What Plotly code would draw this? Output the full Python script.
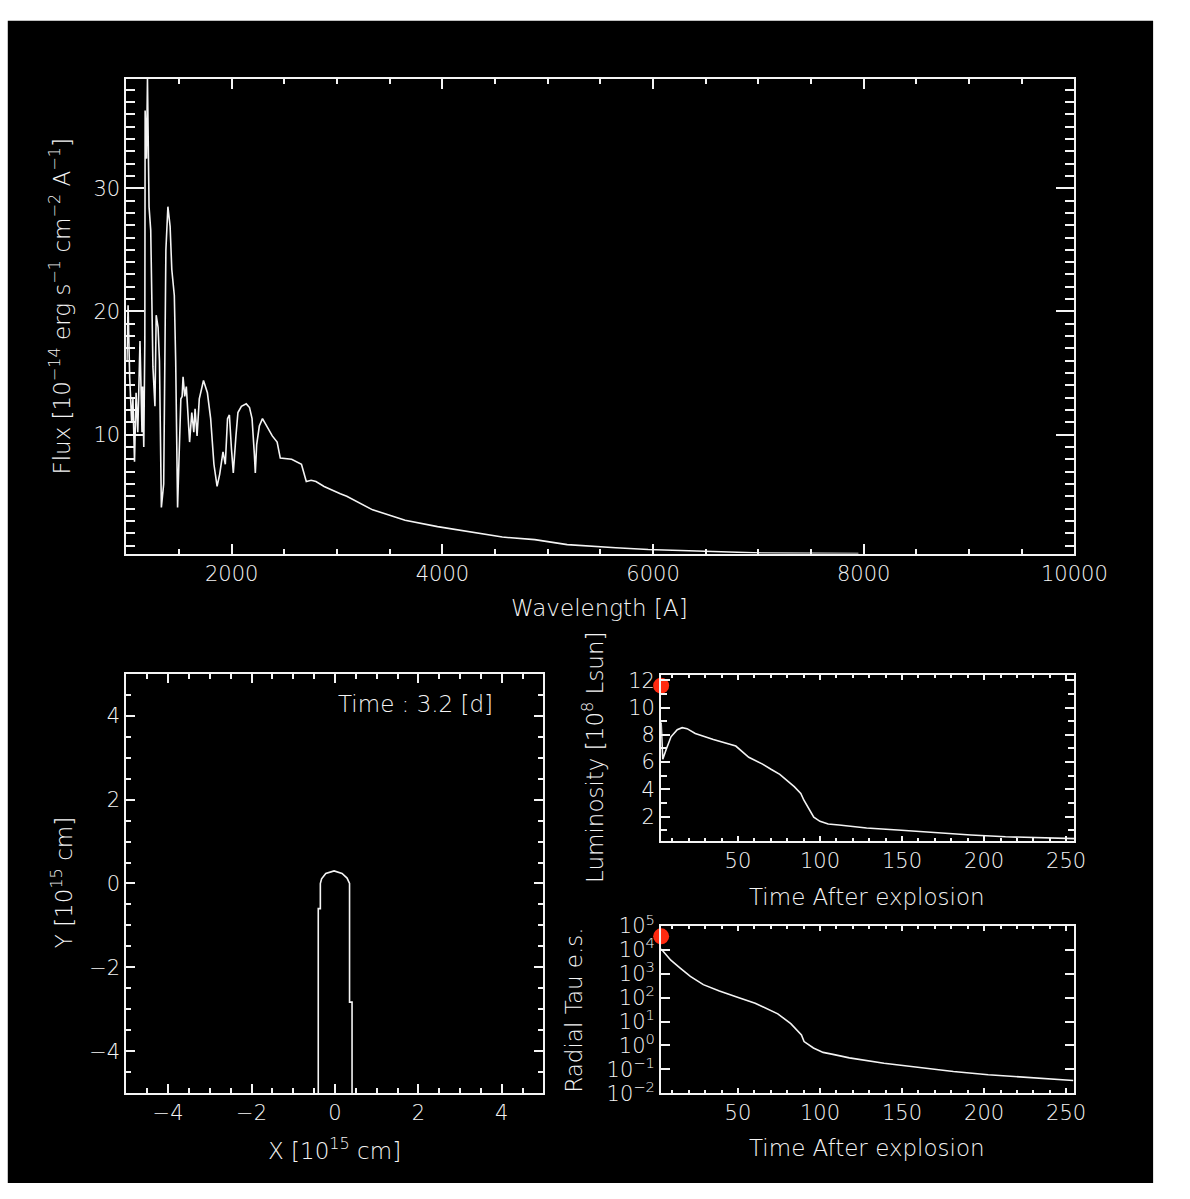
import plotly.graph_objects as go

W, H = 1190, 1199

# ---- spectrum at the current epoch ----
wave = [1005, 1016, 1031, 1050, 1062, 1077, 1092, 1108, 1129, 1148, 1154, 1165, 1175,
        1178, 1191, 1200, 1215, 1231, 1252, 1271, 1283, 1301, 1314, 1332, 1354, 1363,
        1375, 1394, 1415, 1431, 1455, 1468, 1486, 1498, 1517, 1529, 1538, 1554, 1569,
        1600, 1621, 1640, 1652, 1671, 1692, 1732, 1769, 1800, 1831, 1861, 1886, 1917,
        1939, 1960, 1978, 1997, 2015, 2040, 2059, 2092, 2138, 2169, 2193, 2215, 2224,
        2237, 2262, 2292, 2323, 2385, 2431, 2461, 2569, 2662, 2708, 2754, 2800, 2877,
        3031, 3092, 3338, 3646, 3954, 4262, 4569, 4877, 5185, 5646, 5954, 6569, 7031,
        7500, 7950]
flux = [16.0, 20.5, 14.7, 11.0, 12.9, 7.8, 13.4, 10.2, 17.6, 10.2, 13.9, 9.0, 17.6,
        36.3, 32.4, 38.9, 28.5, 26.6, 15.5, 12.3, 19.7, 18.7, 16.0, 4.1, 6.0, 15.5,
        25.0, 28.5, 26.9, 23.4, 21.3, 16.0, 4.1, 7.6, 12.9, 13.1, 14.7, 13.1, 13.9,
        9.4, 11.8, 10.2, 12.1, 9.9, 12.9, 14.4, 13.4, 11.3, 7.6, 5.8, 6.8, 8.6,
        7.6, 11.3, 11.6, 8.9, 6.9, 9.9, 11.8, 12.3, 12.5, 12.2, 11.3, 8.4, 6.9,
        9.2, 10.7, 11.3, 10.8, 9.9, 9.4, 8.1, 8.0, 7.6, 6.2, 6.3, 6.2, 5.8,
        5.2, 5.0, 3.9, 3.06, 2.54, 2.14, 1.69, 1.48, 1.08, 0.82, 0.68, 0.52, 0.40,
        0.37, 0.35]

# ---- photosphere outline in the x-y plane ----
shell_x = [-0.40, -0.40, -0.35, -0.35, -0.32, -0.22, -0.02, 0.17, 0.29, 0.35, 0.35, 0.41, 0.41]
shell_y = [-5.0, -0.60, -0.60, 0.0, 0.11, 0.24, 0.30, 0.24, 0.13, 0.0, -2.83, -2.83, -5.0]

# ---- light curve ----
lc_time = [3.2, 4.2, 6.2, 9.2, 13, 16, 19, 24, 35, 48.7, 56.6, 65, 70.4, 75.5, 84.3,
           88.3, 90.2, 92.5, 96.2, 100, 105, 111.6, 128.4, 149.6, 170.8, 192, 213, 234, 255]
lc_lum = [8.9, 6.2, 6.9, 7.85, 8.37, 8.52, 8.45, 8.09, 7.66, 7.17, 6.35, 5.85, 5.45, 5.1, 4.2,
          3.7, 3.2, 2.75, 1.95, 1.65, 1.45, 1.38, 1.16, 1.0, 0.82, 0.65, 0.52, 0.45, 0.38]

# ---- electron-scattering optical depth ----
tau_time = [3.2, 9.1, 15.0, 21, 28.9, 38.7, 50.6, 60.5, 74.3, 82.2, 88.7, 90.3, 96,
            101.9, 107.9, 117.9, 139, 160.2, 181.3, 202.5, 223.6, 242.7, 254.3]
tau_val = [1.1e4, 3.7e3, 1.7e3, 7.8e2, 3.5e2, 1.9e2, 1.0e2, 5.8e1, 2.1e1, 8.1, 2.75, 1.45, 0.78,
           0.51, 0.42, 0.30, 0.18, 0.117, 0.081, 0.059, 0.046, 0.037, 0.034]

# current epoch marker
now_time = 3.2
now_lum = 11.6
now_tau = 3.7e4

tau_ticks = [1e-2, 1e-1, 1e0, 1e1, 1e2, 1e3, 1e4, 1e5]
tau_ticktext = ["10<sup>\u22122</sup>", "10<sup>\u22121</sup>", "10<sup>0</sup>", "10<sup>1</sup>",
                "10<sup>2</sup>", "10<sup>3</sup>", "10<sup>4</sup>", "10<sup>5</sup>"]

FONT = "DejaVu Sans"
WHITE = "#f4f4f4"
LW = 1.6


def px(x):
    return x / W


def py(y):
    return 1 - y / H


def axis(domain, rng, dtick, mdtick, tlen, mlen, **kw):
    d = dict(
        domain=domain, range=rng, showgrid=False, zeroline=False,
        showline=True, linecolor=WHITE, linewidth=2, mirror="allticks",
        ticks="inside", ticklen=tlen, tickwidth=1.5, tickcolor=WHITE,
        tick0=0, dtick=dtick, tickformat="d",
        tickfont=dict(family=FONT, size=21, color=WHITE, weight=300),
    )
    if mdtick:
        d["minor"] = dict(ticks="inside", dtick=mdtick, tick0=0, ticklen=mlen,
                          tickwidth=1.5, tickcolor=WHITE, showgrid=False)
    d.update(kw)
    return d


fig = go.Figure()

fig.add_trace(go.Scatter(x=wave, y=flux, mode="lines", xaxis="x", yaxis="y",
                         line=dict(color=WHITE, width=LW), showlegend=False))
fig.add_trace(go.Scatter(x=shell_x, y=shell_y, mode="lines", xaxis="x2", yaxis="y2",
                         line=dict(color=WHITE, width=LW), showlegend=False))
fig.add_trace(go.Scatter(x=lc_time, y=lc_lum, mode="lines", xaxis="x3", yaxis="y3",
                         line=dict(color=WHITE, width=LW), showlegend=False))
fig.add_trace(go.Scatter(x=[now_time], y=[now_lum], mode="markers", xaxis="x3", yaxis="y3",
                         marker=dict(color="#ff2a10", size=16), cliponaxis=False, showlegend=False))
fig.add_trace(go.Scatter(x=tau_time, y=tau_val, mode="lines", xaxis="x4", yaxis="y4",
                         line=dict(color=WHITE, width=LW), showlegend=False))
fig.add_trace(go.Scatter(x=[now_time], y=[now_tau], mode="markers", xaxis="x4", yaxis="y4",
                         marker=dict(color="#ff2a10", size=16), cliponaxis=False, showlegend=False))

layout = dict(
    width=W, height=H, margin=dict(l=0, r=0, t=0, b=0),
    paper_bgcolor="white", plot_bgcolor="rgba(0,0,0,0)",
    xaxis=axis([px(130), px(1105)], [1000, 10000], 2000, 500, 10, 5, anchor="y"),
    yaxis=axis([py(551), py(65)], [0.35, 38.9], 10, 1, 18, 9, anchor="x"),
    xaxis2=axis([px(130), px(559)], [-5, 5], 2, 0.5, 9, 5, anchor="y2"),
    yaxis2=axis([py(1103), py(674)], [-5, 5], 2, 0.5, 9, 5, anchor="x2"),
    xaxis3=axis([px(680), px(1105)], [3.2, 255], 50, 10, 5, 3, anchor="y3"),
    yaxis3=axis([py(845), py(675)], [0.21, 12.4], 2, 1, 9, 6, anchor="x3"),
    xaxis4=axis([px(680), px(1105)], [3.2, 255], 50, 10, 5, 3, anchor="y4"),
    yaxis4=axis([py(1103), py(932)], [-2, 5], None, None, 9, 0, anchor="x4",
                type="log", tickmode="array", tickvals=tau_ticks, ticktext=tau_ticktext),
)
fig.update_layout(**layout)

# black canvas inside the thin white frame
fig.add_shape(type="rect", xref="paper", yref="paper", layer="below",
              x0=px(8), x1=px(1186), y0=py(1195), y1=py(6),
              fillcolor="black", line=dict(width=0))

TF = dict(family=FONT, size=23, color=WHITE, weight=300)
notes = [
    ("Flux [10<sup>\u221214</sup> erg s<sup>\u22121</sup> cm<sup>\u22122</sup> A<sup>\u22121</sup>]", 62, 298, -90),
    ("Wavelength [A]", 617, 607, 0),
    ("Y [10<sup>15</sup> cm]", 64, 888, -90),
    ("X [10<sup>15</sup> cm]", 344, 1160, 0),
    ("Time : 3.2 [d]", 427, 705, 0),
    ("Luminosity [10<sup>8</sup> Lsun]", 610, 760, -90),
    ("Time After explosion", 892, 902, 0),
    ("Radial Tau e.s.", 590, 1018, -90),
    ("Time After explosion", 892, 1159, 0),
]
for text, x, y, ang in notes:
    fig.add_annotation(text=text, x=px(x), y=py(y), xref="paper", yref="paper",
                       showarrow=False, textangle=ang, font=TF,
                       xanchor="center", yanchor="middle")

fig.write_html("out.html",
               post_script="document.body.style.margin='0';document.body.style.overflow='hidden';")
